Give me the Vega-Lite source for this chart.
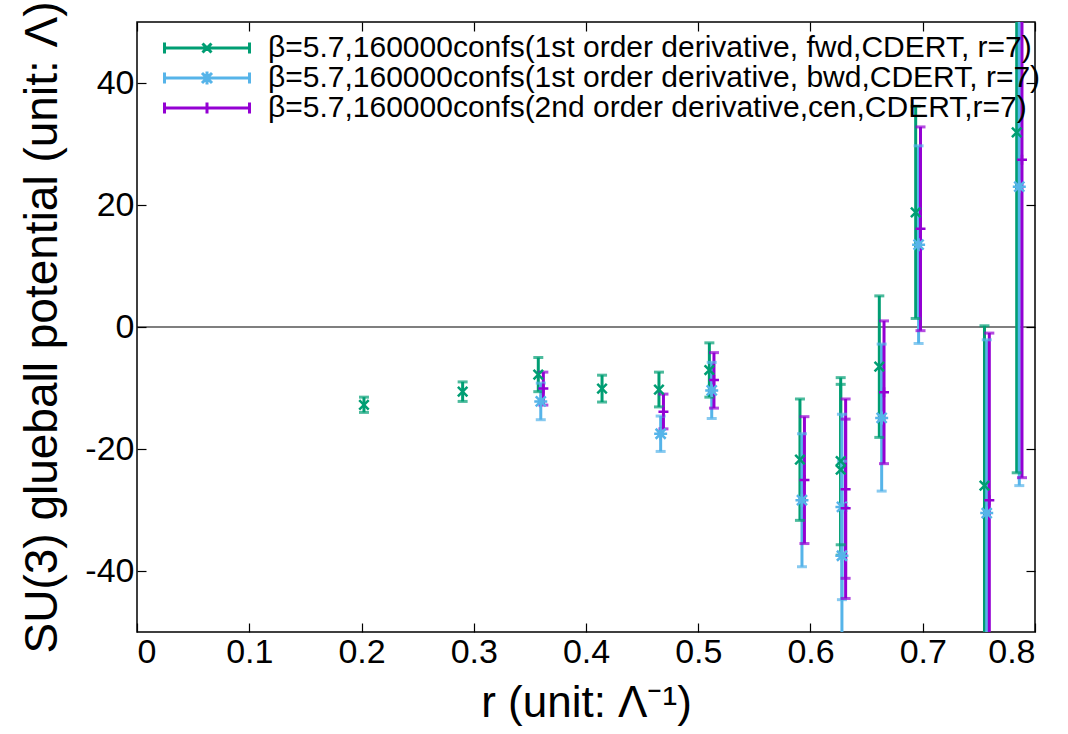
{
  "$schema": "https://vega.github.io/schema/vega-lite/v6.json",
  "width": 898,
  "height": 610,
  "autosize": {"type": "none"},
  "padding": {"left": 137, "top": 22, "right": 33, "bottom": 102},
  "background": "white",
  "config": {
    "view": {"stroke": "black", "strokeWidth": 1.5},
    "font": "Liberation Sans",
    "axis": {
      "grid": false, "domain": false, "tickColor": "black", "tickWidth": 1.2, "tickSize": -9,
      "labelColor": "black", "titleColor": "black", "labelFont": "Liberation Sans", "titleFont": "Liberation Sans",
      "titleFontWeight": "normal", "labelFontSize": 34, "titleFontSize": 44
    }
  },
  "datasets": {
    "pts": [
      {"s": "β=5.7,160000confs(1st order derivative, fwd,CDERT, r=7)", "r": 0.2022, "v": -12.75, "lo": -14.0, "hi": -11.5},
      {"s": "β=5.7,160000confs(1st order derivative, fwd,CDERT, r=7)", "r": 0.2901, "v": -10.6, "lo": -12.2, "hi": -9.0},
      {"s": "β=5.7,160000confs(1st order derivative, fwd,CDERT, r=7)", "r": 0.3575, "v": -7.8, "lo": -10.6, "hi": -5.0},
      {"s": "β=5.7,160000confs(1st order derivative, fwd,CDERT, r=7)", "r": 0.4143, "v": -10.1, "lo": -12.3, "hi": -7.9},
      {"s": "β=5.7,160000confs(1st order derivative, fwd,CDERT, r=7)", "r": 0.465, "v": -10.25, "lo": -13.1, "hi": -7.4},
      {"s": "β=5.7,160000confs(1st order derivative, fwd,CDERT, r=7)", "r": 0.5099, "v": -7.05, "lo": -11.5, "hi": -2.6},
      {"s": "β=5.7,160000confs(1st order derivative, fwd,CDERT, r=7)", "r": 0.5906, "v": -21.75, "lo": -31.7, "hi": -11.8},
      {"s": "β=5.7,160000confs(1st order derivative, fwd,CDERT, r=7)", "r": 0.6269, "v": -22.0, "lo": -35.7, "hi": -8.3},
      {"s": "β=5.7,160000confs(1st order derivative, fwd,CDERT, r=7)", "r": 0.6269, "v": -23.4, "lo": -37.4, "hi": -9.4},
      {"s": "β=5.7,160000confs(1st order derivative, fwd,CDERT, r=7)", "r": 0.6613, "v": -6.5, "lo": -18.1, "hi": 5.1},
      {"s": "β=5.7,160000confs(1st order derivative, fwd,CDERT, r=7)", "r": 0.6937, "v": 18.8, "lo": 1.4, "hi": 36.2},
      {"s": "β=5.7,160000confs(1st order derivative, fwd,CDERT, r=7)", "r": 0.755, "v": -26.0, "lo": -52.2, "hi": 0.2},
      {"s": "β=5.7,160000confs(1st order derivative, fwd,CDERT, r=7)", "r": 0.7837, "v": 31.9, "lo": -23.9, "hi": 87.7},
      {"s": "β=5.7,160000confs(1st order derivative, bwd,CDERT, r=7)", "r": 0.3597, "v": -12.2, "lo": -15.2, "hi": -9.2},
      {"s": "β=5.7,160000confs(1st order derivative, bwd,CDERT, r=7)", "r": 0.4665, "v": -17.5, "lo": -20.4, "hi": -14.6},
      {"s": "β=5.7,160000confs(1st order derivative, bwd,CDERT, r=7)", "r": 0.512, "v": -10.4, "lo": -15.0, "hi": -5.8},
      {"s": "β=5.7,160000confs(1st order derivative, bwd,CDERT, r=7)", "r": 0.5924, "v": -28.4, "lo": -39.3, "hi": -17.5},
      {"s": "β=5.7,160000confs(1st order derivative, bwd,CDERT, r=7)", "r": 0.628, "v": -29.5, "lo": -44.7, "hi": -14.3},
      {"s": "β=5.7,160000confs(1st order derivative, bwd,CDERT, r=7)", "r": 0.628, "v": -37.5, "lo": -53.0, "hi": -22.0},
      {"s": "β=5.7,160000confs(1st order derivative, bwd,CDERT, r=7)", "r": 0.6634, "v": -14.9, "lo": -26.9, "hi": -2.8},
      {"s": "β=5.7,160000confs(1st order derivative, bwd,CDERT, r=7)", "r": 0.6963, "v": 13.5, "lo": -2.7, "hi": 29.7},
      {"s": "β=5.7,160000confs(1st order derivative, bwd,CDERT, r=7)", "r": 0.757, "v": -30.5, "lo": -58.9, "hi": -2.1},
      {"s": "β=5.7,160000confs(1st order derivative, bwd,CDERT, r=7)", "r": 0.786, "v": 23.0, "lo": -26.0, "hi": 72.0},
      {"s": "β=5.7,160000confs(2nd order derivative,cen,CDERT,r=7)", "r": 0.362, "v": -10.1, "lo": -12.8, "hi": -7.4},
      {"s": "β=5.7,160000confs(2nd order derivative,cen,CDERT,r=7)", "r": 0.469, "v": -13.9, "lo": -16.7, "hi": -11.0},
      {"s": "β=5.7,160000confs(2nd order derivative,cen,CDERT,r=7)", "r": 0.514, "v": -8.7, "lo": -13.3, "hi": -4.2},
      {"s": "β=5.7,160000confs(2nd order derivative,cen,CDERT,r=7)", "r": 0.5946, "v": -25.1, "lo": -35.5, "hi": -14.7},
      {"s": "β=5.7,160000confs(2nd order derivative,cen,CDERT,r=7)", "r": 0.6313, "v": -26.6, "lo": -41.2, "hi": -11.8},
      {"s": "β=5.7,160000confs(2nd order derivative,cen,CDERT,r=7)", "r": 0.6313, "v": -29.7, "lo": -44.5, "hi": -15.1},
      {"s": "β=5.7,160000confs(2nd order derivative,cen,CDERT,r=7)", "r": 0.6655, "v": -10.7, "lo": -22.4, "hi": 1.0},
      {"s": "β=5.7,160000confs(2nd order derivative,cen,CDERT,r=7)", "r": 0.698, "v": 16.1, "lo": -0.6, "hi": 32.8},
      {"s": "β=5.7,160000confs(2nd order derivative,cen,CDERT,r=7)", "r": 0.7593, "v": -28.4, "lo": -55.8, "hi": -1.0},
      {"s": "β=5.7,160000confs(2nd order derivative,cen,CDERT,r=7)", "r": 0.7884, "v": 27.4, "lo": -24.7, "hi": 79.5}
    ],
    "zero": [{"z": 0}]
  },
  "data": {"name": "pts"},
  "layer": [
    {
      "data": {"name": "zero"},
      "mark": {"type": "rule", "color": "black", "strokeWidth": 1.2},
      "encoding": {
        "y": {"field": "z", "type": "quantitative", "scale": {"domain": [-50, 50], "nice": false, "zero": false},
              "axis": {"orient": "right", "labels": false, "title": null, "values": [-40, -20, 0, 20, 40]}}
      }
    },
    {
      "mark": {"type": "rule", "strokeWidth": 3, "clip": true},
      "encoding": {
        "x": {"field": "r", "type": "quantitative", "scale": {"domain": [0, 0.8], "nice": false, "zero": false},
              "axis": {"orient": "bottom", "values": [0, 0.1, 0.2, 0.3, 0.4, 0.5, 0.6, 0.7, 0.8], "format": "~g",
                       "title": "r (unit: Λ⁻¹)", "labelPadding": 12, "titlePadding": 12}},
        "y": {"field": "lo", "type": "quantitative", "scale": {"domain": [-50, 50], "nice": false, "zero": false},
              "axis": {"orient": "left", "values": [-40, -20, 0, 20, 40], "title": "SU(3) glueball potential (unit: Λ)",
                       "labelExpr": "datum.value < 0 ? '-' + abs(datum.value) : '' + datum.value",
                       "labelPadding": 12, "titlePadding": 18, "titleFontSize": 46}},
        "y2": {"field": "hi"},
        "color": {
          "field": "s", "type": "nominal",
          "scale": {
            "domain": ["β=5.7,160000confs(1st order derivative, fwd,CDERT, r=7)", "β=5.7,160000confs(1st order derivative, bwd,CDERT, r=7)", "β=5.7,160000confs(2nd order derivative,cen,CDERT,r=7)"],
            "range": ["#009e73", "#56b4e9", "#9400d3"]
          },
          "legend": {
            "title": null, "orient": "none", "legendX": 55, "legendY": 11,
            "labelFontSize": 30, "labelFont": "Liberation Sans", "labelColor": "black", "labelLimit": 0,
            "symbolSize": 400, "symbolStrokeWidth": 3, "labelOffset": 46, "rowPadding": 0, "padding": 0, "symbolOffset": 0
          }
        }
      }
    },
    {
      "mark": {"type": "tick", "orient": "horizontal", "size": 10, "thickness": 3, "clip": true},
      "encoding": {
        "x": {"field": "r", "type": "quantitative", "scale": {"domain": [0, 0.8], "nice": false, "zero": false},
              "axis": {"orient": "top", "labels": false, "title": null, "values": [0, 0.1, 0.2, 0.3, 0.4, 0.5, 0.6, 0.7, 0.8]}},
        "y": {"field": "lo", "type": "quantitative", "axis": null},
        "color": {"field": "s", "type": "nominal", "legend": null}
      }
    },
    {
      "mark": {"type": "tick", "orient": "horizontal", "size": 10, "thickness": 3, "clip": true},
      "encoding": {
        "x": {"field": "r", "type": "quantitative", "axis": null},
        "y": {"field": "hi", "type": "quantitative", "axis": null},
        "color": {"field": "s", "type": "nominal", "legend": null}
      }
    },
    {
      "transform": [{"filter": "indexof(datum.s, 'fwd') >= 0"}],
      "mark": {"type": "point", "filled": false, "size": 90, "strokeWidth": 2.5, "opacity": 1, "clip": true, "shape": "M-1,-1L1,1M-1,1L1,-1"},
      "encoding": {
        "x": {"field": "r", "type": "quantitative", "axis": null},
        "y": {"field": "v", "type": "quantitative", "axis": null},
        "color": {"field": "s", "type": "nominal", "legend": null}
      }
    },
    {
      "transform": [{"filter": "indexof(datum.s, 'bwd') >= 0"}],
      "mark": {"type": "point", "filled": false, "size": 100, "strokeWidth": 2.5, "opacity": 1, "clip": true, "shape": "M-1,-1L1,1M-1,1L1,-1M0,-1.3L0,1.3M-1.3,0L1.3,0"},
      "encoding": {
        "x": {"field": "r", "type": "quantitative", "axis": null},
        "y": {"field": "v", "type": "quantitative", "axis": null},
        "color": {"field": "s", "type": "nominal", "legend": null}
      }
    },
    {
      "transform": [{"filter": "indexof(datum.s, 'cen') >= 0"}],
      "mark": {"type": "point", "filled": false, "size": 100, "strokeWidth": 2.5, "opacity": 1, "clip": true, "shape": "M-1,0L1,0M0,-1L0,1"},
      "encoding": {
        "x": {"field": "r", "type": "quantitative", "axis": null},
        "y": {"field": "v", "type": "quantitative", "axis": null},
        "color": {"field": "s", "type": "nominal", "legend": null}
      }
    },
    {
      "transform": [{"filter": "datum.r < 0"}],
      "mark": {"type": "point", "filled": false, "opacity": 1},
      "encoding": {
        "x": {"field": "r", "type": "quantitative", "axis": null},
        "y": {"field": "v", "type": "quantitative", "axis": null},
        "color": {"field": "s", "type": "nominal", "legend": null},
        "shape": {
          "field": "s", "type": "nominal", "legend": null,
          "scale": {
            "domain": ["β=5.7,160000confs(1st order derivative, fwd,CDERT, r=7)", "β=5.7,160000confs(1st order derivative, bwd,CDERT, r=7)", "β=5.7,160000confs(2nd order derivative,cen,CDERT,r=7)"],
            "range": [
              "M-4.25,0L4.25,0M-4.25,-0.55L-4.25,0.55M4.25,-0.55L4.25,0.55M-0.45,-0.45L0.45,0.45M-0.45,0.45L0.45,-0.45",
              "M-4.25,0L4.25,0M-4.25,-0.55L-4.25,0.55M4.25,-0.55L4.25,0.55M-0.5,-0.5L0.5,0.5M-0.5,0.5L0.5,-0.5M0,-0.65L0,0.65",
              "M-4.25,0L4.25,0M-4.25,-0.55L-4.25,0.55M4.25,-0.55L4.25,0.55M0,-0.55L0,0.55"
            ]
          }
        }
      }
    }
  ],
  "resolve": {"axis": {"x": "independent", "y": "independent"}}
}
